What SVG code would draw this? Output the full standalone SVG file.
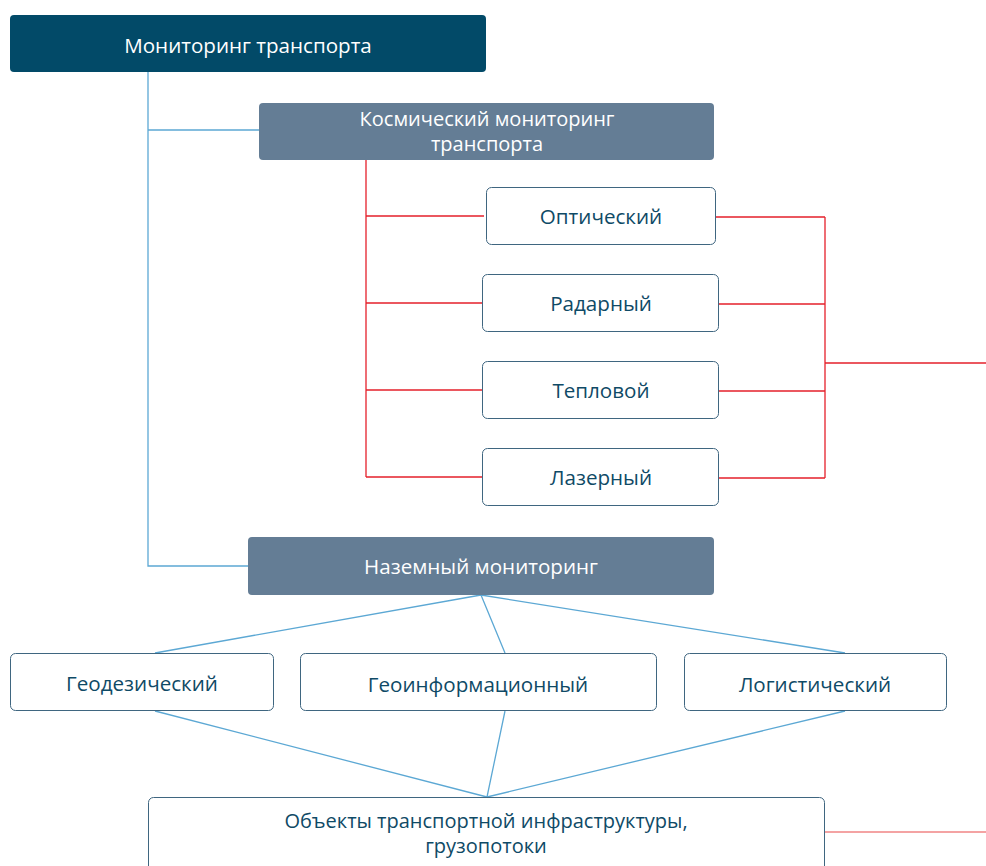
<svg xmlns="http://www.w3.org/2000/svg" width="986" height="866" viewBox="0 0 986 866">
  <style>
    .t { font-family: "Open Sans", "Noto Sans", "DejaVu Sans", sans-serif; font-size: 20.6px; text-anchor: middle; }
    .t2 { font-size: 20px; }
    .tw { fill: #ffffff; }
    .td { fill: #0f4a66; }
    .root { fill: #024a68; }
    .sec { fill: #647d95; }
    .leaf { fill: #ffffff; stroke: #3f6680; stroke-width: 1; }
    .lb { fill: none; stroke: #5ca8d4; stroke-width: 1.3; }
    .lr { fill: none; stroke: #e5212b; stroke-width: 1.3; }
    .lp { fill: none; stroke: #f08585; stroke-width: 1.5; }
  </style>
  <rect width="986" height="866" fill="#ffffff"/>

  <g id="connectors">
    <!-- root to the two branches -->
    <path class="lb" d="M148 72 V566 H248 M148 130 H259"/>
    <!-- space monitoring to its four methods -->
    <path class="lr" d="M366 160 V477 M366 216 H484 M366 303 H482 M366 390 H482 M366 477 H482"/>
    <!-- methods joined on the right -->
    <path class="lr" d="M716 217 H825 M719 304 H825 M719 391 H825 M719 478 H825 M825 217 V478 M825 363 H986"/>
    <!-- ground monitoring fan -->
    <path class="lb" d="M481 595 L155 653 M481 595 L505 653 M481 595 L845 653"/>
    <path class="lb" d="M155 711 L487 797 M505 711 L487 797 M845 711 L487 797"/>
    <path class="lp" d="M825 832 H986"/>
  </g>

  <g id="root">
    <rect class="root" x="10" y="15" width="476" height="57" rx="4"/>
    <text class="t tw" x="248" y="53">Мониторинг транспорта</text>
  </g>

  <g id="space">
    <rect class="sec" x="259" y="103" width="455" height="57" rx="4"/>
    <text class="t t2 tw" x="487" y="126">Космический мониторинг</text>
    <text class="t t2 tw" x="487" y="151">транспорта</text>
  </g>

  <g id="optical">
    <rect class="leaf" x="486.5" y="187.5" width="229" height="57" rx="5"/>
    <text class="t td" x="601" y="224">Оптический</text>
  </g>
  <g id="radar">
    <rect class="leaf" x="482.5" y="274.5" width="236" height="57" rx="5"/>
    <text class="t td" x="601" y="311">Радарный</text>
  </g>
  <g id="thermal">
    <rect class="leaf" x="482.5" y="361.5" width="236" height="57" rx="5"/>
    <text class="t td" x="601" y="398">Тепловой</text>
  </g>
  <g id="laser">
    <rect class="leaf" x="482.5" y="448.5" width="236" height="57" rx="5"/>
    <text class="t td" x="601" y="485">Лазерный</text>
  </g>

  <g id="ground">
    <rect class="sec" x="248" y="537" width="466" height="58" rx="4"/>
    <text class="t tw" x="481" y="574">Наземный мониторинг</text>
  </g>

  <g id="geodetic">
    <rect class="leaf" x="10.5" y="653.5" width="263" height="57" rx="5"/>
    <text class="t td" x="142" y="691">Геодезический</text>
  </g>
  <g id="geoinfo">
    <rect class="leaf" x="300.5" y="653.5" width="356" height="57" rx="5"/>
    <text class="t td" x="478" y="692">Геоинформационный</text>
  </g>
  <g id="logistic">
    <rect class="leaf" x="684.5" y="653.5" width="262" height="57" rx="5"/>
    <text class="t td" x="815" y="692">Логистический</text>
  </g>

  <g id="objects">
    <rect class="leaf" x="148.5" y="797.5" width="676" height="80" rx="5"/>
    <text class="t t2 td" x="486" y="828">Объекты транспортной инфраструктуры,</text>
    <text class="t t2 td" x="486" y="853">грузопотоки</text>
  </g>
</svg>
